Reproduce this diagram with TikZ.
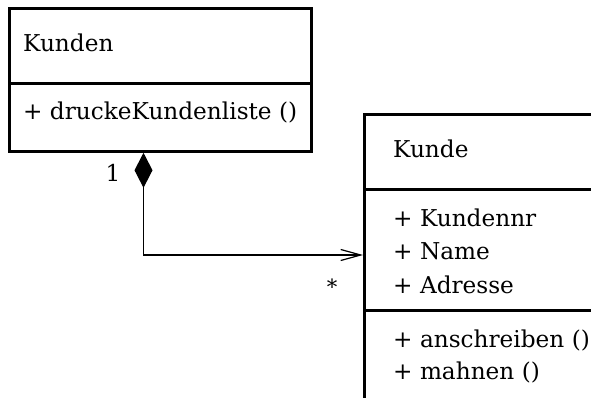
\documentclass[tikz,border=0pt]{standalone}
\usepackage{fontspec}
\setmainfont{DejaVu Serif}
\usetikzlibrary{arrows.meta}
\begin{document}
\begin{tikzpicture}[x=1pt,y=-1pt,
  compart/.style={draw=black, line width=2.8pt, anchor=north west, inner sep=0pt},
  txt/.style={anchor=base west, inner sep=0pt, font=\fontsize{23.2}{28}\selectfont},
  mult/.style={inner sep=0pt, font=\fontsize{23.2}{28}\selectfont},
  assoc/.style={line width=1.2pt, {Diamond[length=35pt,width=18pt]}-{Straight Barb[length=20pt,width=11pt,line width=1.2pt]}}]
\useasboundingbox (0,0) rectangle (591,398);
\clip (0,0) rectangle (591,398);
% class Kunden
\node[compart, minimum width=302pt, minimum height=75pt] (kundenName) at (8,7) {};
\node[compart, minimum width=302pt, minimum height=68pt] (kundenOps) at (8,82) {};
\node[txt] (tKunden) at (23,52) {Kunden};
\node[txt] (tDrucke) at (23,120) {+ druckeKundenliste ()};
% class Kunde
\node[compart, minimum width=260pt, minimum height=75pt] (kundeName) at (363,113) {};
\node[compart, minimum width=260pt, minimum height=121pt] (kundeAttr) at (363,188) {};
\node[compart, minimum width=260pt, minimum height=120pt] (kundeOps) at (363,309) {};
\node[txt] (tKunde) at (393,158) {Kunde};
\node[txt] (tNr) at (393,226) {+ Kundennr};
\node[txt] (tName) at (393,259) {+ Name};
\node[txt] (tAdr) at (393,293) {+ Adresse};
\node[txt] (tAns) at (393,347) {+ anschreiben ()};
\node[txt] (tMahn) at (393,379) {+ mahnen ()};
% association
\coordinate (bend) at (143.5,255);
\draw[assoc] (kundenOps.south -| bend) -- (bend) -- (bend -| kundeAttr.west);
\node[mult, anchor=base] (m1) at (113,182) {1};
\node[mult, font=\fontsize{21}{25}\selectfont] (mStar) at (332,287) {*};
\end{tikzpicture}
\end{document}
